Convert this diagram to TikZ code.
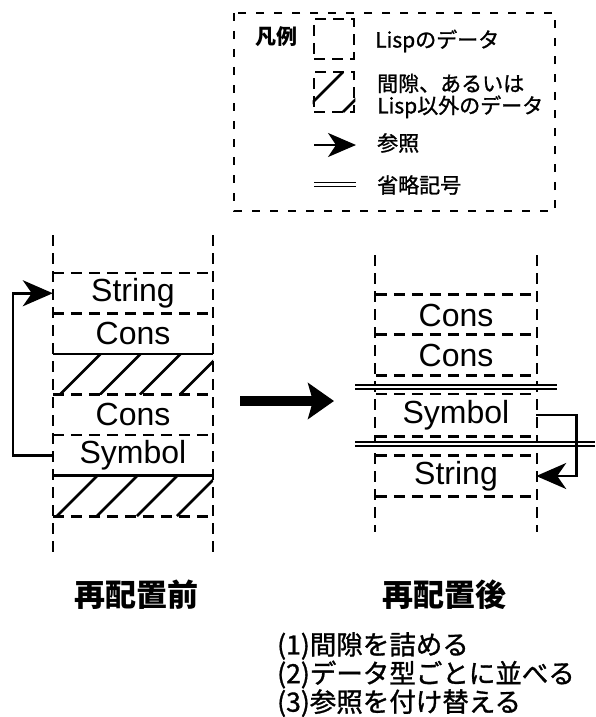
\documentclass[tikz,border=0pt]{standalone}
\usepackage{fontspec}
\setmainfont{Liberation Sans}
\newfontfamily\jp{Noto Sans CJK JP}
\newfontfamily\jpm[FakeBold=1.2]{Noto Sans CJK JP}
\usetikzlibrary{arrows.meta}
\begin{document}
\begin{tikzpicture}[x=1pt,y=-1pt,
  lw/.style={line width=2.6pt},
  dsh/.style={lw, dash pattern=on 11pt off 7pt},
  legdash/.style={lw, dash pattern=on 8pt off 10pt},
  cell/.style={minimum width=160pt, minimum height=40.5pt, inner sep=0pt, font=\fontsize{32}{36}\selectfont},
  jtext/.style={inner sep=0pt, anchor=west, font=\jpm\fontsize{21}{22}\selectfont, align=left},
  ref/.style={lw, -{Stealth[length=30pt,width=26pt,inset=9pt]}},
  omit/.style={double, line width=1.3pt, double distance=2.7pt}
]
\useasboundingbox (0,0) rectangle (595,717);

% ---------- legend ----------
\draw[legdash] (234,13) rectangle (555,211);
\node[inner sep=0pt, font=\jp\bfseries\fontsize{21}{22}\selectfont] (legT) at (276,37) {凡例};
\node[draw, dsh, minimum width=40pt, minimum height=40pt, inner sep=0pt] (s1) at (334,39) {};
\node[draw, dsh, minimum width=40pt, minimum height=40pt, inner sep=0pt] (s2) at (334,92) {};
\begin{scope}
  \clip (s2.north west) rectangle (s2.south east);
  \foreach \x in {303,343} \draw[lw] (\x,112) -- ++(40,-40);
\end{scope}
\node[jtext] (t1) at (375,41) {Lispのデータ};
\node[jtext] (t2) at (377,96) {間隙、あるいは\\Lisp以外のデータ};
\coordinate (la1) at (314,145);
\coordinate (la2) at (356,145);
\draw[lw, -{Stealth[length=28pt,width=24pt,inset=8pt]}] (la1) -- (la2);
\node[jtext] (t3) at (377,143) {参照};
\coordinate (ld1) at (314,184.5);
\coordinate (ld2) at (356,184.5);
\draw[omit] (ld1) -- (ld2);
\node[jtext] (t4) at (377,185) {省略記号};

% ---------- left column (before) ----------
\node[cell] (strL)  at (133,293.25) {String};
\node[cell] (consL1) at (133,333.75) {Cons};
\node[cell] (gapL1) at (133,374.25) {};
\node[cell] (consL2) at (133,414.75) {Cons};
\node[cell] (symL)  at (133,455.25) {Symbol};
\node[cell] (gapL2) at (133,495.75) {};

\draw[dsh] (53,235) -- (53,552);
\draw[dsh] (213,235) -- (213,552);
\draw[dsh] (strL.north west) -- (strL.north east);
\draw[dsh] (consL1.north west) -- (consL1.north east);
\draw[lw] (gapL1.north west) -- (gapL1.north east);
\draw[dsh] (consL2.north west) -- (consL2.north east);
\draw[dsh] (symL.north west) -- (symL.north east);
\draw[lw] (gapL2.north west) -- (gapL2.north east);
\draw[dsh] (gapL2.south west) -- (gapL2.south east);
\begin{scope}
  \clip (gapL1.north west) rectangle (gapL1.south east);
  \foreach \x in {60,100,140,180} \draw[lw] (\x,394.5) -- ++(40.5,-40.5);
\end{scope}
\begin{scope}
  \clip (gapL2.north west) rectangle (gapL2.south east);
  \foreach \x in {57,97,137,177} \draw[lw] (\x,516) -- ++(40.5,-40.5);
\end{scope}
\draw[ref] (symL.west) -- ++(-40,0) |- (strL.west);

% ---------- middle arrow ----------
\coordinate (mA) at (240,401);
\coordinate (mB) at (334,401);
\draw[line width=10pt, -{Stealth[length=26pt,width=36pt,inset=5pt]}] (mA) -- (mB);

% ---------- right column (after) ----------
\node[cell] (consR1) at (456,315) {Cons};
\node[cell] (consR2) at (456,355) {Cons};
\node[cell, minimum height=42pt] (symR) at (456,415) {Symbol};
\node[cell] (strR) at (456,476) {String};

\draw[dsh] (375,255) -- (375,532);
\draw[dsh] (537,255) -- (537,532);
\draw[dsh] (consR1.north west) -- (consR1.north east);
\draw[dsh] (consR2.north west) -- (consR2.north east);
\draw[dsh] (consR2.south west) -- (consR2.south east);
\draw[dsh] (symR.north west) -- (symR.north east);
\draw[dsh] (symR.south west) -- (symR.south east);
\draw[dsh] (strR.north west) -- (strR.north east);
\draw[dsh] (strR.south west) -- (strR.south east);
\coordinate (o1a) at (355,387);
\coordinate (o1b) at (557,387);
\coordinate (o2a) at (355,444);
\coordinate (o2b) at (595,444);
\draw[omit] (o1a) -- (o1b);
\draw[omit] (o2a) -- (o2b);
\draw[ref] (symR.east) -- ++(40,0) |- (strR.east);

% ---------- captions ----------
\node[inner sep=0pt, font=\jp\bfseries\fontsize{31}{32}\selectfont] (titleL) at (136,595) {再配置前};
\node[inner sep=0pt, font=\jp\bfseries\fontsize{31}{32}\selectfont] (titleR) at (444,595) {再配置後};
\node[inner sep=0pt, anchor=west, align=left, font=\jpm\fontsize{26.5}{26.5}\selectfont] (steps) at (277,674.5) {(1)間隙を詰める\\(2)データ型ごとに並べる\\(3)参照を付け替える};
\end{tikzpicture}
\end{document}
